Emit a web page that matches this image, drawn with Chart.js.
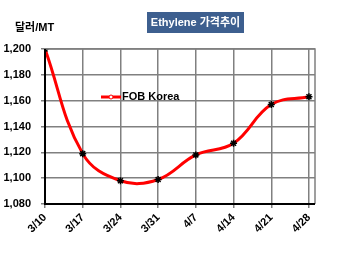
<!DOCTYPE html>
<html>
<head>
<meta charset="utf-8">
<script src="https://cdn.jsdelivr.net/npm/chart.js@4/dist/chart.umd.min.js"></script>
<style>
  html, body { margin: 0; padding: 0; background: #fff; }
  #wrap { width: 350px; height: 253px; }
</style>
</head>
<body>
<div id="wrap"><canvas id="c" width="350" height="253"></canvas></div>
<script>
const labels = ["3/10", "3/17", "3/24", "3/31", "4/7", "4/14", "4/21", "4/28"];
const fobKorea = [1200, 1119, 1098, 1099, 1118, 1127, 1157, 1163];
const yTicks = [1080, 1100, 1120, 1140, 1160, 1180, 1200];
const seriesName = "FOB Korea";
const titleText = "Ethylene 가격추이";
const unitText = "달러/MT";

const FONT = "'Liberation Sans', Arial, sans-serif";

const decor = {
  id: "decor",
  afterDraw(chart) {
    const ctx = chart.ctx;
    const a = chart.chartArea;
    ctx.save();
    // title box
    ctx.fillStyle = "#3d5f8f";
    ctx.fillRect(147, 12, 97, 21);
    ctx.fillStyle = "#fff";
    ctx.font = "bold 11px 'Liberation Sans', 'Noto Sans CJK KR', sans-serif";
    ctx.textBaseline = "middle";
    ctx.textAlign = "center";
    ctx.fillText(titleText, 195.5, 23);
    // unit
    ctx.fillStyle = "#000";
    ctx.font = "bold 11px 'Liberation Sans', 'Noto Sans CJK KR', sans-serif";
    ctx.textAlign = "left";
    ctx.fillText(unitText, 15, 28);
    // gray frame top/right
    ctx.strokeStyle = "#808080";
    ctx.lineWidth = 1.5;
    ctx.beginPath();
    ctx.moveTo(a.left, a.top);
    ctx.lineTo(a.right, a.top);
    ctx.lineTo(a.right, a.bottom);
    ctx.stroke();
    // axes: thick black left and bottom
    ctx.strokeStyle = "#000";
    ctx.lineWidth = 2;
    ctx.beginPath();
    ctx.moveTo(a.left, a.top);
    ctx.lineTo(a.left, a.bottom);
    ctx.lineTo(a.right, a.bottom);
    ctx.stroke();
    // legend
    const ly = a.top + 48;
    ctx.strokeStyle = "#ff0000";
    ctx.lineWidth = 3;
    ctx.beginPath();
    ctx.moveTo(101, ly);
    ctx.lineTo(121, ly);
    ctx.stroke();
    ctx.fillStyle = "#fff";
    ctx.lineWidth = 1;
    ctx.beginPath();
    ctx.arc(111, ly, 2, 0, Math.PI * 2);
    ctx.fill();
    ctx.stroke();
    ctx.fillStyle = "#000";
    ctx.font = "bold 11px " + FONT;
    ctx.textAlign = "left";
    ctx.fillText(seriesName, 122, ly);
    ctx.restore();
  }
};

new Chart(document.getElementById("c"), {
  type: "line",
  data: {
    datasets: [{
      label: seriesName,
      data: fobKorea.map((v, i) => ({ x: i, y: v })),
      borderColor: "#ff0000",
      borderWidth: 3,
      tension: 0.4,
      pointStyle: "star",
      pointRadius: 3.5,
      pointBorderColor: "#000",
      pointBackgroundColor: "#000",
      pointBorderWidth: 1.5,
    }],
  },
  options: {
    responsive: false,
    animation: false,
    layout: { padding: { left: 0, right: 35, top: 49, bottom: 0 } },
    plugins: { legend: { display: false }, tooltip: { enabled: false } },
    scales: {
      x: {
        type: "linear",
        min: 0,
        max: labels.length - 1 + 0.16,
        afterFit: (s) => { s.height = 49; },
        afterBuildTicks: (s) => { s.ticks = labels.map((_, i) => ({ value: i })); },
        grid: { color: "#808080", lineWidth: 1.5, drawTicks: true, tickLength: 4 },
        border: { display: false },
        ticks: {
          color: "#000",
          font: { family: FONT, size: 11, weight: "bold" },
          maxRotation: 45, minRotation: 45,
          padding: 3,
          autoSkip: false,
          callback: (v) => labels[v] ?? "",
        },
      },
      y: {
        min: 1080, max: 1200,
        afterFit: (s) => { s.width = 45; },
        afterBuildTicks: (s) => { s.ticks = yTicks.map((v) => ({ value: v })); },
        grid: { color: "#808080", lineWidth: 1.5, drawTicks: true, tickLength: 4 },
        border: { display: false },
        ticks: {
          color: "#000",
          font: { family: FONT, size: 11, weight: "bold" },
          padding: 10,
          callback: (v) => v.toLocaleString("en-US"),
        },
      },
    },
  },
  plugins: [decor],
});
</script>
</body>
</html>
